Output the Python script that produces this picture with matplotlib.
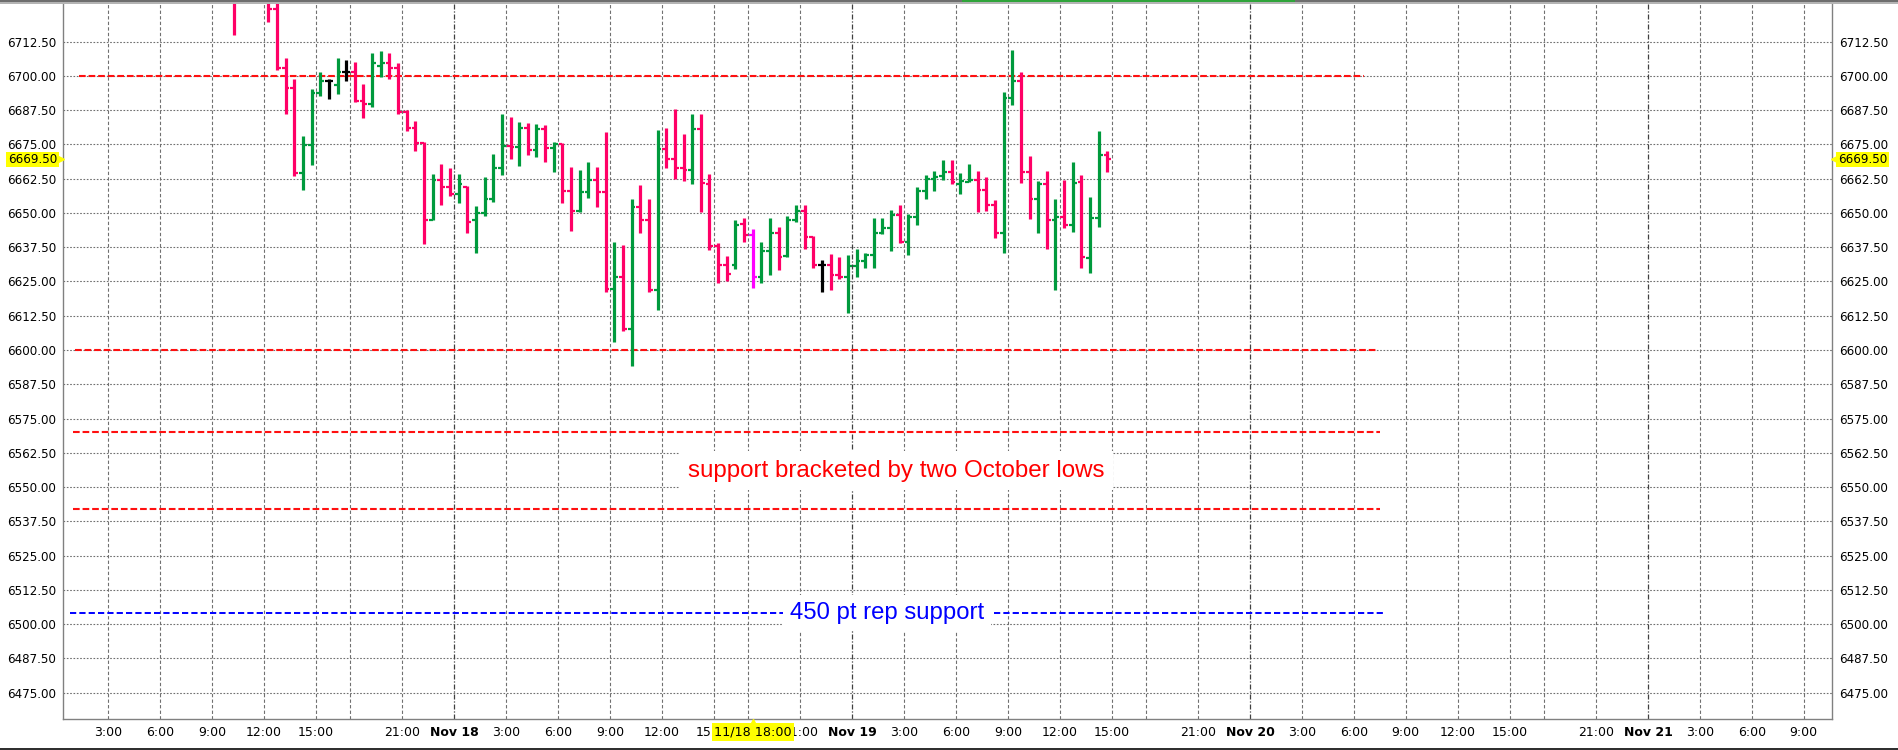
import matplotlib
matplotlib.use("Agg")
import matplotlib.pyplot as plt
import matplotlib.transforms as mtransforms
from matplotlib.patches import Rectangle
import pandas as pd

# ---------------- data (30-minute bars, ES futures) ----------------
bar_start = "2025-11-17 10:00"
bar_end = "2025-11-19 14:30"

opens = [6736, 6728, 6734, 6738, 6732, 6724.5, 6703, 6695.5, 6664.5, 6674.75,
         6693.75, 6698, 6696.75, 6701.5, 6701.5, 6691, 6689.75, 6703.5, 6704.5, 6702.75,
         6686.75, 6681, 6675.5, 6647.5, 6662, 6659.5, 6657, 6659.5, 6647.25, 6650,
         6655, 6666.25, 6674.5, 6674, 6681, 6673, 6680.5, 6673.5, 6675.25, 6658,
         6650.75, 6657.5, 6662, 6657.5, 6622.25, 6626.75, 6607.75, 6652, 6647.5, 6622,
         6673.25, 6669.5, 6666.5, 6665.5, 6680.5, 6660.5, 6638, 6631, 6631, 6646,
         6642, 6626.5, 6636, 6642.5, 6634.25, 6647.5, 6650.75, 6641.25, 6631, 6631,
         6627.5, 6626.75, 6630.5, 6632.5, 6634.5, 6642.75, 6644.5, 6649.25, 6639.25, 6648.5,
         6658, 6662.5, 6663.5, 6664.75, 6660.5, 6661.25, 6662, 6658.5, 6653, 6642.75,
         6692, 6698.25, 6664.75, 6655, 6660.5, 6647.25, 6648.5, 6645.5, 6661.25, 6633.5,
         6648, 6671]
highs = [6740, 6738, 6742, 6741, 6734, 6728, 6706.5, 6698.75, 6678, 6695.25,
         6701.5, 6698.75, 6706.5, 6705.75, 6705, 6697, 6708.25, 6709, 6708.25, 6704.5,
         6687.5, 6683.5, 6675.75, 6664.25, 6668, 6666.25, 6664.25, 6659.75, 6652.5, 6663,
         6671.5, 6686, 6685, 6683.25, 6682.75, 6682.5, 6682, 6676, 6675.5, 6666.75,
         6665.75, 6668.5, 6666.75, 6679.5, 6639.25, 6638.25, 6655, 6660, 6655, 6680.25,
         6681, 6688, 6678.75, 6686, 6686, 6664.25, 6639, 6634.25, 6647.5, 6648,
         6644, 6639.25, 6648, 6644.75, 6649, 6653, 6653, 6641.5, 6632.75, 6635,
         6633.75, 6634.75, 6636.75, 6635.25, 6648, 6648, 6651, 6653, 6649.5, 6659.5,
         6664, 6665.25, 6669.25, 6669.25, 6664.5, 6668, 6665.25, 6663.25, 6654.75, 6694,
         6709.5, 6701.25, 6670.75, 6661.75, 6665.25, 6655, 6662, 6668.5, 6664, 6655.75,
         6680, 6672.5]
lows = [6714.75, 6727, 6729, 6730, 6719.5, 6702.25, 6686.25, 6663.5, 6658.5, 6667.5,
        6692.75, 6691.5, 6693.25, 6698.25, 6690.5, 6684.75, 6688.75, 6699.5, 6699, 6686.25,
        6680, 6672.5, 6638.75, 6647.25, 6653, 6656, 6653.75, 6642.75, 6635.5, 6649,
        6654, 6664, 6669.5, 6667.25, 6671, 6670.5, 6668.75, 6665, 6653.75, 6643.25,
        6650.5, 6655.5, 6652.25, 6621.25, 6603, 6606.75, 6594, 6642.75, 6621, 6614.5,
        6666.5, 6662.5, 6661.5, 6660.5, 6650.5, 6636.5, 6624.5, 6625.25, 6629.5, 6639.25,
        6622.5, 6624.5, 6627.5, 6629, 6634, 6646.75, 6637, 6629.75, 6621.25, 6622,
        6626, 6613.5, 6626.75, 6630, 6630, 6642.25, 6636, 6639, 6634.75, 6645.5,
        6655.25, 6658, 6662, 6660.5, 6656.75, 6661.25, 6650.25, 6650.75, 6641, 6635.5,
        6689.25, 6661, 6647.75, 6642.5, 6637, 6622, 6644.5, 6643, 6629.75, 6628.25,
        6645, 6665]
closes = [6728, 6734, 6738, 6732, 6724.5, 6703, 6695.5, 6664.5, 6674.75, 6693.75,
          6698, 6698, 6701.5, 6701.5, 6691, 6689.75, 6704.5, 6704.5, 6702.75, 6686.75,
          6681, 6675.5, 6647.5, 6662, 6659.5, 6657, 6660.5, 6646.75, 6650, 6655,
          6666.25, 6674.5, 6674, 6681, 6673, 6680.5, 6673.5, 6675.25, 6658, 6650.75,
          6657.5, 6662, 6657.5, 6622.25, 6626.75, 6607.75, 6652, 6647.5, 6622, 6673.25,
          6669.5, 6666.5, 6665.5, 6680.5, 6660.75, 6638, 6631, 6627.75, 6645.5, 6642,
          6626.5, 6636, 6642.5, 6634, 6647.5, 6650.75, 6641.25, 6631, 6631, 6627.5,
          6626.75, 6630.5, 6632.5, 6634.5, 6642.5, 6644.5, 6649.25, 6639.5, 6648.5, 6658,
          6662.5, 6663.25, 6664.75, 6661.25, 6661.5, 6662, 6658.5, 6653, 6642.75, 6692,
          6698.25, 6664.75, 6655, 6660.5, 6647.25, 6648.5, 6645.5, 6661, 6633.75, 6648,
          6671, 6669.5]

selected_bar = "2025-11-18 18:00"
last_price = 6669.50

# horizontal levels drawn on the chart
red_levels = [6700, 6600, 6570, 6542]
red_starts = ["2025-11-17 01:18", "2025-11-17 01:04", "2025-11-17 00:57", "2025-11-17 00:57"]
red_ends = ["2025-11-20 06:35", "2025-11-20 07:17", "2025-11-20 07:30", "2025-11-20 07:30"]
blue_level = 6504
blue_start = "2025-11-17 00:47"
blue_end = "2025-11-20 07:44"

red_note = "support bracketed by two October lows"
red_note_at = ("2025-11-19 02:34", 6556.0)
blue_note = "450 pt rep support"
blue_note_at = ("2025-11-19 02:00", 6504)

y_ticks = [6475 + 12.5 * i for i in range(20)]

# ---------------- helpers ----------------
FIRST_DAY = pd.Timestamp("2025-11-17")


def session_pos(ts):
    """hour index on a session axis where the 17:00-18:00 break is removed"""
    ts = pd.Timestamp(ts)
    day = (ts.normalize() - FIRST_DAY).days
    h = ts.hour if ts.hour < 17 else ts.hour - 1
    return day * 23 + h + ts.minute / 60.0


times = [t for t in pd.date_range(bar_start, bar_end, freq="30min") if t.hour != 17]
xs = [session_pos(t) + 0.25 for t in times]

GREEN = "#009a3d"
PINK = "#ff0066"
colors = []
for t, o, c in zip(times, opens, closes):
    if t == pd.Timestamp(selected_bar):
        colors.append("#ff00ff")
    elif c > o:
        colors.append(GREEN)
    elif c < o:
        colors.append(PINK)
    else:
        colors.append("black")

# ---------------- figure ----------------
W, H = 1898, 750
fig = plt.figure(figsize=(W / 100, H / 100), dpi=100)
fig.patch.set_facecolor("white")
ax_l, ax_r, ax_t, ax_b = 63.3, 1831.7, 4, 719
ax = fig.add_axes([ax_l / W, (H - ax_b) / H, (ax_r - ax_l) / W, (ax_b - ax_t) / H])
ax.set_xlim(0.40, 102.62)
ax.set_ylim(6465.4, 6726.2)

for s in ["left", "right", "bottom"]:
    ax.spines[s].set_color("#808080")
    ax.spines[s].set_linewidth(1.0)
ax.spines["top"].set_visible(False)

# horizontal grid
for yv in y_ticks:
    ax.axhline(yv, color="#707070", lw=0.8, ls=(0, (1.5, 1.5)), zorder=0)

# vertical grid & x labels
grid_times = []
d = pd.Timestamp("2025-11-17 03:00")
while session_pos(d) < 102.6:
    if d.hour != 17 and d.hour % 3 == 0:
        grid_times.append(d)
    d += pd.Timedelta(hours=1)
tick_pos, tick_lab = [], []
for g in grid_times:
    p = session_pos(g)
    if g.hour == 0:
        ax.axvline(p, color="#404040", lw=0.9, ls=(0, (4, 1.5, 1, 1.5)), zorder=0)
        lab = g.strftime("%b ") + str(g.day)
    else:
        ax.axvline(p, color="#707070", lw=0.8, ls=(0, (3, 2)), zorder=0)
        lab = "" if g.hour == 18 else f"{g.hour}:00"
    tick_pos.append(p)
    tick_lab.append(lab)
ax.set_xticks(tick_pos)
ax.set_xticklabels(tick_lab)
for lbl, g in zip(ax.get_xticklabels(), grid_times):
    if g.hour == 0:
        lbl.set_fontweight("bold")
ax.tick_params(axis="x", length=0, pad=5, labelsize=9, colors="black")

ax.set_yticks(y_ticks)
ax.set_yticklabels([f"{v:.2f}" for v in y_ticks])
ax.tick_params(axis="y", length=0, pad=5, labelsize=8.6, labelleft=True, labelright=True)

# support / resistance lines
for lev, s, e in zip(red_levels, red_starts, red_ends):
    ax.plot([session_pos(s), session_pos(e)], [lev, lev], color="#ff1010", lw=1.5,
            ls=(0, (3.2, 1.4)), zorder=2)
ax.plot([session_pos(blue_start), session_pos(blue_end)], [blue_level, blue_level],
        color="#0000ff", lw=1.4, ls=(0, (3.2, 1.6)), zorder=2)

# OHLC bars
tick_w = 0.22
ax.vlines(xs, lows, highs, colors=colors, lw=2.3, zorder=4)
ax.hlines(opens, [x - tick_w for x in xs], xs, colors=colors, lw=1.6, zorder=4)
ax.hlines(closes, xs, [x + tick_w for x in xs], colors=colors, lw=1.6, zorder=4)

# annotations
ax.text(session_pos(red_note_at[0]), red_note_at[1], red_note, color="#ff0000",
        fontsize=17.4, family="Liberation Sans", ha="center", va="center", zorder=5,
        bbox=dict(boxstyle="square,pad=0.35", fc="white", ec="none"))
ax.text(session_pos(blue_note_at[0]), blue_note_at[1], blue_note, color="#0000ff",
        fontsize=17.2, family="Liberation Sans", ha="center", va="center", zorder=5,
        bbox=dict(boxstyle="square,pad=0.3", fc="white", ec="none"))

# last price markers
yl_tr = mtransforms.blended_transform_factory(ax.transAxes, ax.transData)
ax.text(-0.0035, last_price, f"{last_price:.2f}", transform=yl_tr, ha="right", va="center",
        fontsize=8.6, zorder=10, clip_on=False,
        bbox=dict(boxstyle="square,pad=0.12", fc="#ffff00", ec="none"))
ax.plot([-0.0012], [last_price], marker=">", ms=5, color="#ffff00", transform=yl_tr,
        clip_on=False, zorder=10)
ax.text(1.0035, last_price, f"{last_price:.2f}", transform=yl_tr, ha="left", va="center",
        fontsize=8.6, zorder=10, clip_on=False,
        bbox=dict(boxstyle="square,pad=0.12", fc="#ffff00", ec="none"))
ax.plot([1.0012], [last_price], marker="<", ms=5, color="#ffff00", transform=yl_tr,
        clip_on=False, zorder=10)

# crosshair time label
xl_tr = mtransforms.blended_transform_factory(ax.transData, ax.transAxes)
sel_x = session_pos(selected_bar) + 0.25
ax.text(sel_x, -0.0185, pd.Timestamp(selected_bar).strftime("%m/%d %H:%M"),
        transform=xl_tr, ha="center", va="center", fontsize=9.2, zorder=10, clip_on=False,
        bbox=dict(boxstyle="square,pad=0.18", fc="#ffff00", ec="none"))
ax.plot([sel_x], [-0.004], marker="^", ms=4, color="#ffff00", transform=xl_tr,
        clip_on=False, zorder=11)

# window frame bits
fig.patches.append(Rectangle((0, (H - 4) / H), 1, 4 / H, transform=fig.transFigure,
                             fc="#b4b4b4", ec="none", zorder=0))
fig.patches.append(Rectangle((0, (H - 2) / H), 1, 2 / H, transform=fig.transFigure,
                             fc="#6e6e6e", ec="none", zorder=1))
fig.patches.append(Rectangle((962 / W, (H - 2) / H), (1295 - 962) / W, 2 / H,
                             transform=fig.transFigure, fc="#2fa43a", ec="none", zorder=2))
fig.patches.append(Rectangle((0, 0), 1, 2 / H, transform=fig.transFigure,
                             fc="#303030", ec="none", zorder=1))

fig.savefig("out.png", dpi=100)
